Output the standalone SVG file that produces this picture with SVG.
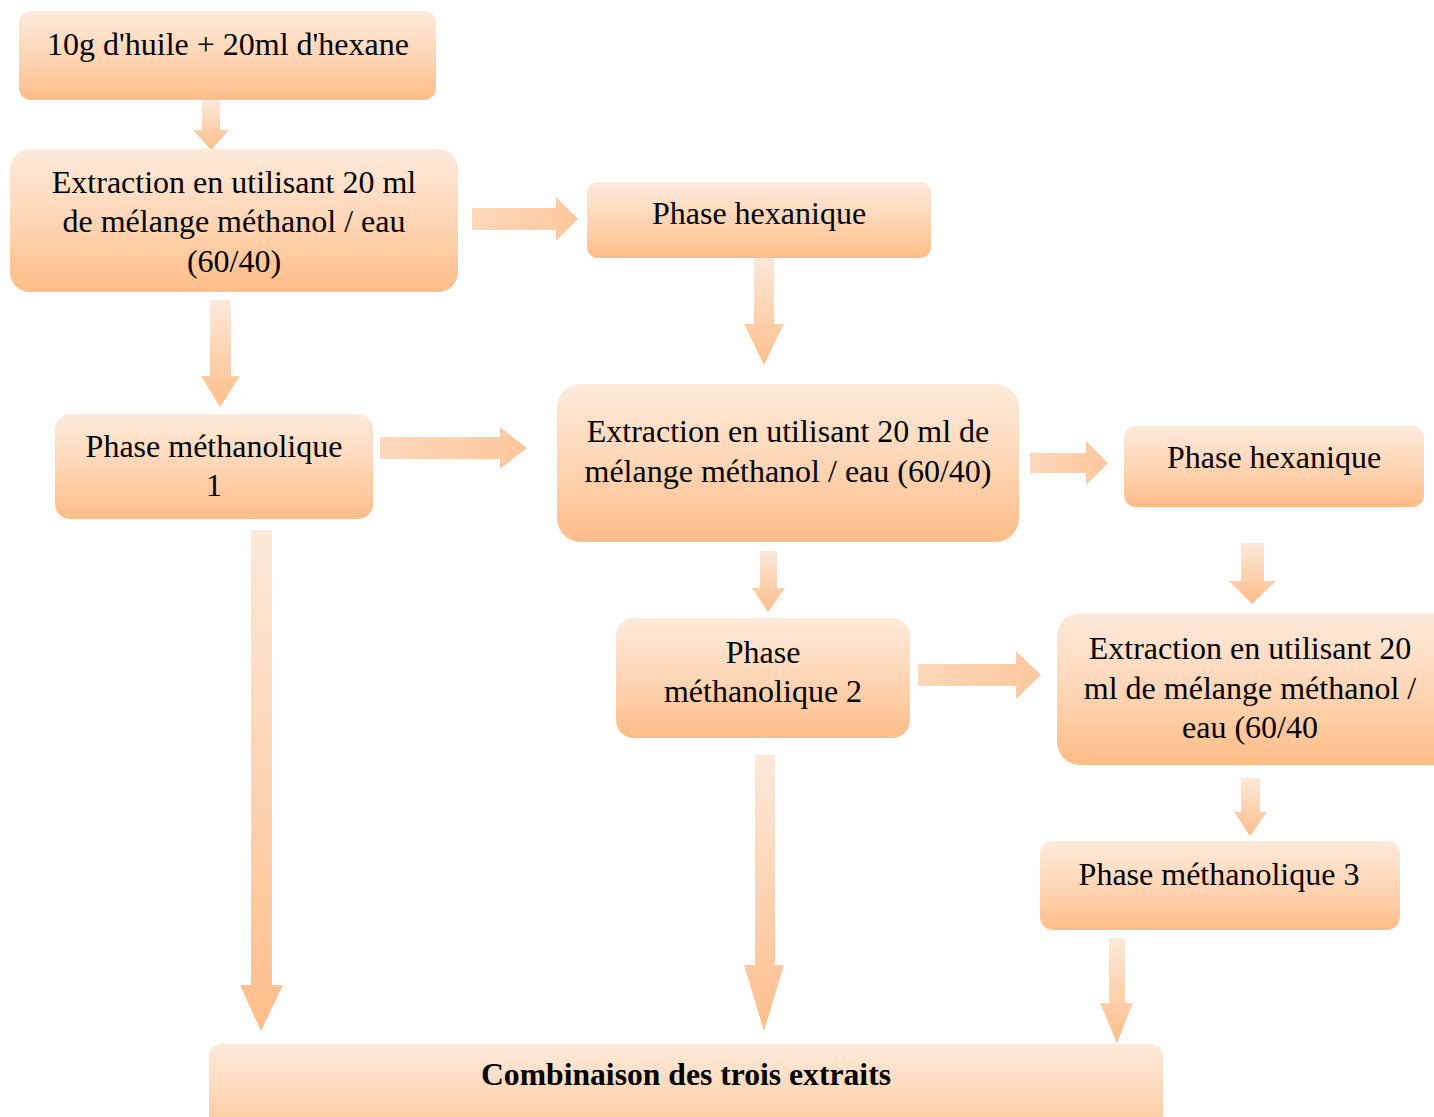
<svg xmlns="http://www.w3.org/2000/svg" width="1434" height="1117" viewBox="0 0 1434 1117">
  <defs>
    <linearGradient id="gBox" x1="0" y1="0" x2="0" y2="1">
      <stop offset="0" stop-color="#FEEADB"/>
      <stop offset="0.5" stop-color="#FFD6B6"/>
      <stop offset="1" stop-color="#FFBD88"/>
    </linearGradient>
    <linearGradient id="gDown" x1="0" y1="0" x2="0" y2="1">
      <stop offset="0" stop-color="#FDE9DA"/>
      <stop offset="1" stop-color="#FFBE8A"/>
    </linearGradient>
    <linearGradient id="gRight" x1="0" y1="0" x2="1" y2="0">
      <stop offset="0" stop-color="#FDD8BC"/>
      <stop offset="1" stop-color="#FFC79C"/>
    </linearGradient>
    <style>
      .box { fill: url(#gBox); }
      .dn { fill: url(#gDown); }
      .rt { fill: url(#gRight); }
      .t { font-family: "Liberation Serif", "Times New Roman", serif; font-size: 32px; fill: #000; text-anchor: middle; }
      .b { font-family: "Liberation Serif", "Times New Roman", serif; font-size: 31px; font-weight: bold; fill: #000; text-anchor: middle; }
    </style>
  </defs>

  <g id="connectors">
    <polygon class="dn" points="202,100 220,100 220,130 229,130 211,150 193,130 202,130"/>
    <polygon class="rt" points="472,208 556,208 556,197 578,219 556,241 556,230 472,230"/>
    <polygon class="dn" points="754,258 774,258 774,324 784,324 764,365 744,324 754,324"/>
    <polygon class="dn" points="210,300 231,300 231,376 240,376 220,407 201,376 210,376"/>
    <polygon class="rt" points="380,437 500,437 500,427 527,448 500,469 500,459 380,459"/>
    <polygon class="rt" points="1030,453 1086,453 1086,441 1108,463 1086,485 1086,473 1030,473"/>
    <polygon class="dn" points="1241,543 1264,543 1264,581 1276,581 1252,604 1229,581 1241,581"/>
    <polygon class="dn" points="760,551 777,551 777,588 785,588 768,612 752,588 760,588"/>
    <polygon class="rt" points="918,664 1016,664 1016,651 1041,675 1016,699 1016,686 918,686"/>
    <polygon class="dn" points="1241,778 1260,778 1260,812 1267,812 1250,836 1234,812 1241,812"/>
    <polygon class="dn" points="251,530 272,530 272,985 283,985 261,1031 240,985 251,985"/>
    <polygon class="dn" points="755,755 775,755 775,965 784,965 764,1031 744,965 755,965"/>
    <polygon class="dn" points="1109,938 1125,938 1125,1003 1133,1003 1117,1043 1100,1003 1109,1003"/>
  </g>

  <g id="n1">
    <rect class="box" x="19" y="11" width="417" height="89" rx="12"/>
    <text class="t" x="228" y="55">10g d'huile + 20ml d'hexane</text>
  </g>
  <g id="n2">
    <rect class="box" x="10" y="149" width="448" height="143" rx="20"/>
    <text class="t" x="234" y="193">Extraction en utilisant 20 ml</text>
    <text class="t" x="234" y="232">de mélange méthanol / eau</text>
    <text class="t" x="234" y="272">(60/40)</text>
  </g>
  <g id="n3">
    <rect class="box" x="587" y="182" width="344" height="76" rx="11"/>
    <text class="t" x="759" y="224">Phase hexanique</text>
  </g>
  <g id="n4">
    <rect class="box" x="55" y="414" width="318" height="105" rx="15"/>
    <text class="t" x="214" y="457">Phase méthanolique</text>
    <text class="t" x="214" y="496">1</text>
  </g>
  <g id="n5">
    <rect class="box" x="557" y="384" width="462" height="158" rx="24"/>
    <text class="t" x="788" y="442">Extraction en utilisant 20 ml de</text>
    <text class="t" x="788" y="482">mélange méthanol / eau (60/40)</text>
  </g>
  <g id="n6">
    <rect class="box" x="1124" y="426" width="300" height="81" rx="12"/>
    <text class="t" x="1274" y="468">Phase hexanique</text>
  </g>
  <g id="n7">
    <rect class="box" x="616" y="618" width="294" height="120" rx="18"/>
    <text class="t" x="763" y="663">Phase</text>
    <text class="t" x="763" y="702">méthanolique 2</text>
  </g>
  <g id="n8">
    <rect class="box" x="1057" y="613" width="400" height="152" rx="23"/>
    <text class="t" x="1250" y="659">Extraction en utilisant 20</text>
    <text class="t" x="1250" y="699">ml de mélange méthanol /</text>
    <text class="t" x="1250" y="738">eau (60/40</text>
  </g>
  <g id="n9">
    <rect class="box" x="1040" y="841" width="360" height="89" rx="13"/>
    <text class="t" x="1219" y="885">Phase méthanolique 3</text>
  </g>
  <g id="n10">
    <rect class="box" x="209" y="1044" width="954" height="110" rx="12"/>
    <text class="b" x="686" y="1085" textLength="410" lengthAdjust="spacingAndGlyphs">Combinaison des trois extraits</text>
  </g>
</svg>
